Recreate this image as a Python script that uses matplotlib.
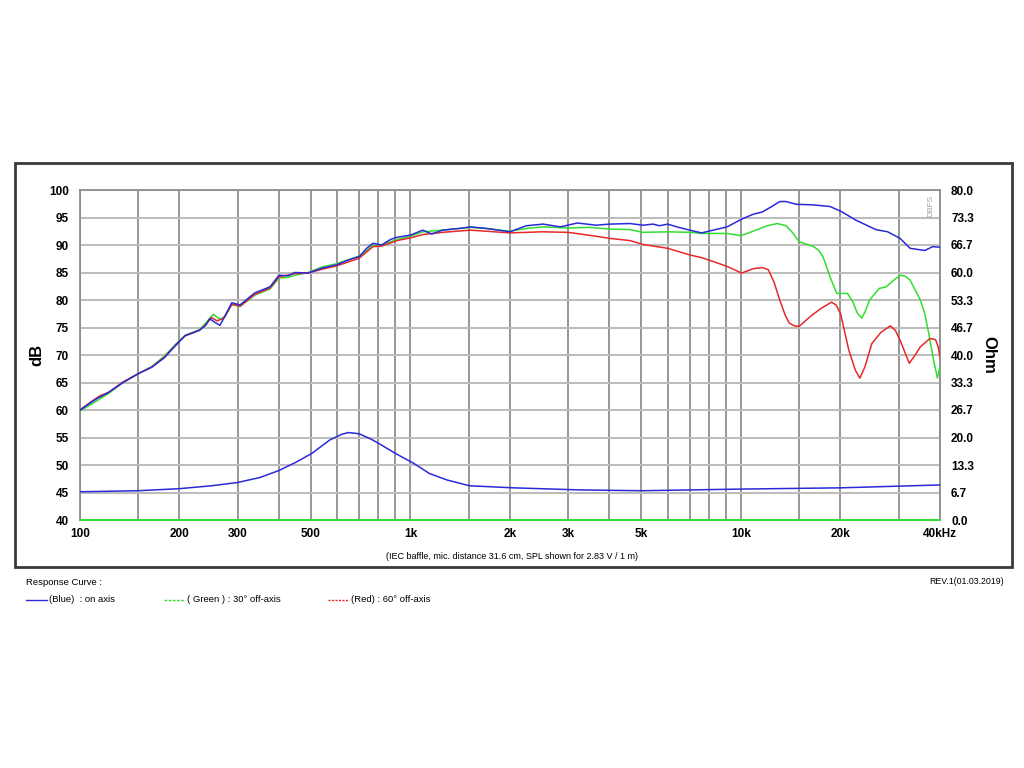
import matplotlib
matplotlib.use("Agg")
import matplotlib.pyplot as plt
from matplotlib.patches import Rectangle
from matplotlib.lines import Line2D
import numpy as np

plt.rcParams['font.family'] = ['Liberation Sans', 'DejaVu Sans']

# on axis (blue)
blue_f = [100, 112, 122, 135, 150, 165, 180, 195, 208, 230, 240, 247, 255, 265, 272, 288, 305,
          338, 376, 400, 426, 447, 490, 540, 598, 650, 700, 740, 770, 818, 870, 910, 1000, 1090,
          1160, 1250, 1400, 1520, 1700, 2000, 2240, 2520, 2840, 3200, 3640, 4010, 4620, 5050,
          5420, 5670, 6000, 6400, 7000, 7600, 8240, 9080, 10050, 10900, 11600, 12400, 13100,
          13700, 14700, 16500, 18600, 20100, 22300, 25600, 27800, 30300, 32500, 36000, 38000, 40000]
blue_db = [60.0, 62.0, 63.2, 65.0, 66.6, 67.8, 69.5, 71.8, 73.5, 74.5, 75.4, 76.6, 76.0, 75.4, 76.6,
           79.5, 79.1, 81.3, 82.4, 84.5, 84.4, 85.0, 84.9, 85.8, 86.4, 87.3, 87.9, 89.5, 90.3, 90.0,
           91.0, 91.4, 91.8, 92.7, 92.0, 92.7, 93.0, 93.3, 93.0, 92.4, 93.5, 93.8, 93.3, 94.0, 93.6,
           93.8, 93.9, 93.6, 93.8, 93.5, 93.8, 93.3, 92.7, 92.2, 92.7, 93.3, 94.7, 95.6, 96.0, 97.0,
           97.9, 97.9, 97.4, 97.3, 97.0, 96.1, 94.5, 92.8, 92.4, 91.2, 89.4, 89.0, 89.7, 89.6]

# 30 deg off-axis (green)
green_f = [100, 112, 122, 135, 150, 165, 180, 195, 208, 230, 240, 253, 265, 275, 288, 305, 338, 376,
           400, 426, 447, 490, 540, 598, 700, 770, 818, 910, 1000, 1090, 1250, 1520, 1700, 2000,
           2240, 2520, 3000, 3480, 4010, 4620, 5050, 6000, 7000, 7600, 9080, 10000, 11100, 12000,
           12900, 13700, 14300, 15000, 16600, 17200, 17700, 18100, 18600, 19500, 21000, 21800,
           22500, 23200, 23800, 24500, 26200, 27500, 29000, 30300, 31500, 32500, 34900, 36000,
           37000, 38300, 39300, 40000]
green_db = [59.8, 61.6, 63.0, 65.0, 66.6, 67.9, 69.8, 72.0, 73.6, 74.6, 75.8, 77.4, 76.5, 77.0, 79.2,
            78.8, 80.9, 82.0, 84.0, 84.1, 84.5, 85.0, 86.0, 86.6, 88.0, 89.9, 90.0, 91.0, 91.6, 92.4,
            92.7, 93.2, 93.0, 92.5, 93.0, 93.3, 93.1, 93.2, 92.9, 92.8, 92.3, 92.4, 92.3, 92.1, 92.1,
            91.7, 92.7, 93.5, 93.9, 93.5, 92.3, 90.6, 89.7, 89.0, 87.9, 86.3, 84.2, 81.2, 81.2, 79.7,
            77.6, 76.7, 78.0, 80.0, 82.1, 82.4, 83.6, 84.5, 84.3, 83.6, 80.0, 77.5, 73.9, 69.0, 65.8,
            67.9]

# 60 deg off-axis (red)
red_f = [100, 108, 115, 122, 135, 150, 165, 180, 195, 208, 230, 240, 250, 260, 272, 288, 305, 338,
         376, 400, 447, 490, 540, 598, 700, 770, 818, 910, 1000, 1090, 1250, 1520, 1700, 2000, 2500,
         3000, 3640, 4010, 4620, 5050, 6000, 7000, 7600, 8240, 9080, 10050, 10900, 11600, 12100,
         12600, 13100, 13600, 14000, 14500, 15000, 16200, 17500, 18800, 19400, 20000, 21200, 22200,
         22900, 23700, 24900, 26500, 28300, 29300, 30300, 32300, 33500, 34900, 37300, 38800, 39500,
         40000]
red_db = [60.0, 61.5, 62.6, 63.2, 65.1, 66.6, 67.8, 69.6, 71.8, 73.5, 74.5, 75.5, 76.8, 76.2, 76.7,
          79.2, 78.9, 81.0, 82.2, 84.2, 84.8, 84.9, 85.6, 86.2, 87.6, 89.7, 89.8, 90.8, 91.3, 91.9,
          92.3, 92.7, 92.5, 92.2, 92.4, 92.3, 91.6, 91.2, 90.8, 90.1, 89.4, 88.2, 87.7, 87.0, 86.1,
          84.9, 85.7, 85.9, 85.5, 83.2, 80.0, 77.3, 75.8, 75.3, 75.2, 77.0, 78.5, 79.6, 79.1, 77.6,
          70.9, 67.2, 65.8, 67.8, 72.1, 74.1, 75.3, 74.5, 72.7, 68.5, 69.8, 71.5, 73.0, 72.8, 71.5,
          69.7]

# impedance (right axis, Ohm)
imp_f = [100, 150, 200, 250, 300, 350, 400, 450, 502, 570, 620, 650, 700, 760, 808, 907, 1020,
         1140, 1290, 1510, 2050, 3250, 5000, 10000, 20000, 40000]
imp_ohm = [6.85, 7.1, 7.6, 8.3, 9.1, 10.3, 12.0, 14.0, 16.1, 19.4, 20.8, 21.2, 20.9, 19.6, 18.4,
           16.0, 13.8, 11.3, 9.7, 8.3, 7.8, 7.3, 7.1, 7.5, 7.8, 8.5]

grid_f = [100, 150, 200, 300, 400, 500, 600, 700, 800, 900, 1000, 1500, 2000, 3000, 4000, 5000,
          6000, 7000, 8000, 9000, 10000, 15000, 20000, 30000, 40000]
xtick_f = [100, 200, 300, 500, 1000, 2000, 3000, 5000, 10000, 20000, 40000]
xtick_lbl = ['100', '200', '300', '500', '1k', '2k', '3k', '5k', '10k', '20k', '40kHz']
ytick_db = list(range(40, 101, 5))
ytick_ohm = [0.0, 6.7, 13.3, 20.0, 26.7, 33.3, 40.0, 46.7, 53.3, 60.0, 66.7, 73.3, 80.0]

BLUE = '#2a2ad8'
GREEN = '#33dd33'
RED = '#e82828'

fig = plt.figure(figsize=(10.24, 7.68), dpi=100)
fig.patch.set_facecolor('white')

# outer frame
fig.add_artist(Rectangle((0.0146, 0.2617), 0.9736, 0.526, transform=fig.transFigure,
                         fill=False, edgecolor='#3a3a3a', linewidth=2.0))

ax = fig.add_axes([0.0781, 0.3229, 0.8398, 0.4297])
ax.set_xscale('log')
ax.set_xlim(100, 40000)
ax.set_ylim(40, 100)

for f in grid_f:
    ax.axvline(f, color='#8e8e8e', lw=1.3, zorder=1)
for d in ytick_db:
    ax.axhline(d, color='#bdbdbd', lw=1.5, zorder=1)

ax.plot(green_f, green_db, color=GREEN, lw=1.1, zorder=3)
ax.plot(red_f, red_db, color=RED, lw=1.1, zorder=3)
ax.plot(blue_f, blue_db, color=BLUE, lw=1.1, zorder=4)

ax.set_xticks(xtick_f)
ax.set_xticklabels(xtick_lbl, fontsize=8.5, fontweight='bold')
ax.xaxis.set_minor_locator(plt.NullLocator())
ax.set_yticks(ytick_db)
ax.set_yticklabels([str(v) for v in ytick_db], fontsize=8.5, fontweight='bold')
ax.tick_params(length=0, pad=6)
ax.tick_params(axis='y', pad=8)

for s in ['left', 'right', 'top']:
    ax.spines[s].set_color('#8e8e8e')
    ax.spines[s].set_linewidth(1.3)
ax.spines['bottom'].set_color(GREEN)
ax.spines['bottom'].set_linewidth(1.5)

ax.set_ylabel('dB', fontsize=12, fontweight='bold', labelpad=3)

ax2 = ax.twinx()
ax2.set_ylim(0, 80)
ax2.plot(imp_f, imp_ohm, color=BLUE, lw=1.1, zorder=4)
ax2.set_yticks(ytick_ohm)
ax2.set_yticklabels(['%.1f' % v for v in ytick_ohm], fontsize=8.5, fontweight='bold')
ax2.tick_params(length=0, pad=8)
ax2.set_ylabel('Ohm', fontsize=12, fontweight='bold', rotation=270, labelpad=16)
for s in ax2.spines.values():
    s.set_visible(False)

ax.text(0.993, 0.985, 'DBFS', transform=ax.transAxes, rotation=90, fontsize=6,
        color='#a0a0a0', ha='right', va='top')

fig.text(0.5, 0.276, '(IEC baffle, mic. distance 31.6 cm, SPL shown for 2.83 V / 1 m)',
         fontsize=6.5, ha='center', va='center')

# legend below the frame
fig.text(0.025, 0.241, 'Response Curve :', fontsize=6.8, va='center')
fig.text(0.98, 0.243, 'REV.1(01.03.2019)', fontsize=6.3, va='center', ha='right')
legend_items = [(0.025, BLUE, '-', '(Blue)  : on axis'),
                (0.160, GREEN, (0, (2, 1)), '( Green ) : 30° off-axis'),
                (0.320, RED, (0, (1.5, 1)), '(Red) : 60° off-axis')]
for x0, col, ls, txt in legend_items:
    fig.add_artist(Line2D([x0, x0 + 0.021], [0.219, 0.219], transform=fig.transFigure,
                          color=col, lw=1.0, linestyle=ls))
    fig.text(x0 + 0.023, 0.219, txt, fontsize=6.8, va='center')

fig.savefig('out.png', dpi=100)
